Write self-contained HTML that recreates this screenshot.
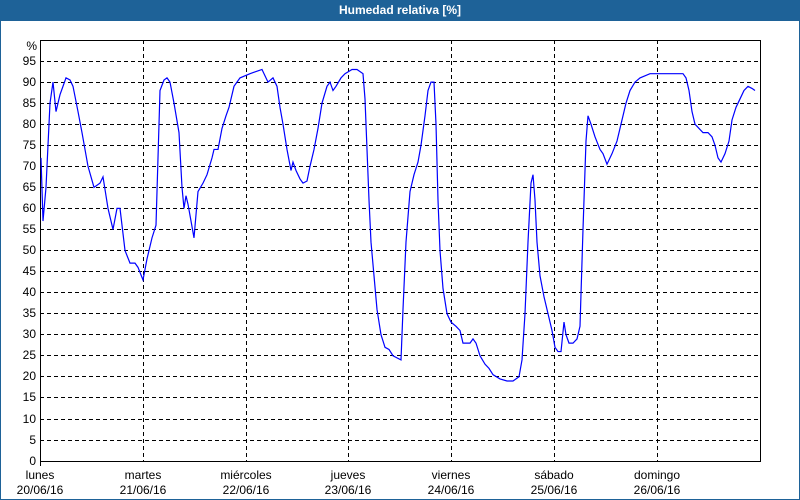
<!DOCTYPE html>
<html><head><meta charset="utf-8"><style>
html,body{margin:0;padding:0;background:#fff}
body{width:800px;height:500px;position:relative;overflow:hidden;font-family:"Liberation Sans",sans-serif}
.frame{position:absolute;left:0;top:0;width:798px;height:498px;border:1px solid #1e6298}
.title{position:absolute;left:0;top:0;width:800px;height:21px;background:#1e6298;color:#fff;font-weight:bold;font-size:12px;text-align:center;line-height:21px}
</style></head><body>
<div class="frame"></div>
<div class="title">Humedad relativa [%]</div>
<svg width="800" height="500" style="position:absolute;left:0;top:0" font-family="Liberation Sans, sans-serif" font-size="12">
<g stroke="#000" stroke-dasharray="4,3" stroke-width="1">
<line x1="40" x2="760" y1="61.5" y2="61.5"/><line x1="40" x2="760" y1="82.5" y2="82.5"/><line x1="40" x2="760" y1="103.5" y2="103.5"/><line x1="40" x2="760" y1="124.5" y2="124.5"/><line x1="40" x2="760" y1="145.5" y2="145.5"/><line x1="40" x2="760" y1="166.5" y2="166.5"/><line x1="40" x2="760" y1="187.5" y2="187.5"/><line x1="40" x2="760" y1="208.5" y2="208.5"/><line x1="40" x2="760" y1="229.5" y2="229.5"/><line x1="40" x2="760" y1="250.5" y2="250.5"/><line x1="40" x2="760" y1="271.5" y2="271.5"/><line x1="40" x2="760" y1="292.5" y2="292.5"/><line x1="40" x2="760" y1="313.5" y2="313.5"/><line x1="40" x2="760" y1="334.5" y2="334.5"/><line x1="40" x2="760" y1="355.5" y2="355.5"/><line x1="40" x2="760" y1="376.5" y2="376.5"/><line x1="40" x2="760" y1="397.5" y2="397.5"/><line x1="40" x2="760" y1="419.5" y2="419.5"/><line x1="40" x2="760" y1="440.5" y2="440.5"/>
<line y1="40" y2="461" x1="143.5" x2="143.5"/><line y1="40" y2="461" x1="246.5" x2="246.5"/><line y1="40" y2="461" x1="348.5" x2="348.5"/><line y1="40" y2="461" x1="451.5" x2="451.5"/><line y1="40" y2="461" x1="554.5" x2="554.5"/><line y1="40" y2="461" x1="657.5" x2="657.5"/>
</g>
<rect x="40.5" y="40.5" width="720" height="421" fill="none" stroke="#000"/>
<line x1="40.5" x2="40.5" y1="461" y2="466" stroke="#000"/>
<g text-anchor="end" fill="#000">
<text x="37" y="50">%</text>
<text x="36" y="65">95</text><text x="36" y="86">90</text><text x="36" y="107">85</text><text x="36" y="128">80</text><text x="36" y="149">75</text><text x="36" y="170">70</text><text x="36" y="191">65</text><text x="36" y="212">60</text><text x="36" y="233">55</text><text x="36" y="254">50</text><text x="36" y="275">45</text><text x="36" y="296">40</text><text x="36" y="317">35</text><text x="36" y="338">30</text><text x="36" y="359">25</text><text x="36" y="380">20</text><text x="36" y="401">15</text><text x="36" y="423">10</text><text x="36" y="444">5</text><text x="36" y="465">0</text>
</g>
<g text-anchor="middle" fill="#000">
<text x="40" y="479">lunes</text><text x="40" y="494">20/06/16</text>
<text x="143" y="479">martes</text><text x="143" y="494">21/06/16</text>
<text x="246" y="479">miércoles</text><text x="246" y="494">22/06/16</text>
<text x="348" y="479">jueves</text><text x="348" y="494">23/06/16</text>
<text x="451" y="479">viernes</text><text x="451" y="494">24/06/16</text>
<text x="554" y="479">sábado</text><text x="554" y="494">25/06/16</text>
<text x="657" y="479">domingo</text><text x="657" y="494">26/06/16</text>
</g>
<g transform="translate(0,461) scale(1,-4.21)">
<polyline fill="none" stroke="#0000ff" stroke-width="1.2" vector-effect="non-scaling-stroke" points="41,72 43,57 46,65 50,85 53,90 56,83 60,87 66,91 70,90.5 73,89 78,83 82,78 88,70 94,65 100,66 103,67.5 108,60 113,55 117,60 120,60 125,50 130,47 135,47 138,46 143,43 147,48 152,53 156,56 160,88 164,90.5 167,91 170,90 174,85 179,78 182,65 184,60 186,63 188,61 191,57 194,53 198,64 203,66 207,68 212,72 214,74 218,74 222,79 226,82 229,84 234,89 240,91 250,92 262,93 268,90 273,91 277,89 280,84 283,80 287,74 291,69 293,71 296,69 300,67 303,66 307,66.5 310,70 314,74 318,79 322,85 327,89 330,90 333,88 336,89 341,91 345,92 352,93 357,93 363,92 365,86 367,74 369,62 371,52 374,44 377,36 381,30 385,27 389,26.5 393,25 397,24.5 401,24 403,36 406,52 410,64 414,68 418,71 421,75 425,82 428,88 431,90 434,90 436,80 438,62 440,50 443,41 447,35 451,33 456,32 460,31 463,28 467,28 470,28 473,29 476,28 480,25 485,23 489,22 493,20.5 500,19.5 507,19 513,19 519,20 522,24 525,35 528,52 531,66 533,68 535,62 537,52 540,44 544,39 548,35 552,31 555,27 558,26 561,26 564,33 566,30 569,28 573,28 577,29 580,32 583,55 586,76 588,82 591,80 595,77 600,74 603,73 607,70.5 612,73 617,76 621,80 626,85 630,88 635,90 640,91 650,92 662,92 672,92 683,92 686,91 689,88 692,83 695,80 699,79 703,78 708,78 712,77 715,75 718,72 721,71 725,73 729,76 732,81 736,84 740,86 744,88 748,89 752,88.5 755,88"/>
</g>
</svg>
</body></html>
